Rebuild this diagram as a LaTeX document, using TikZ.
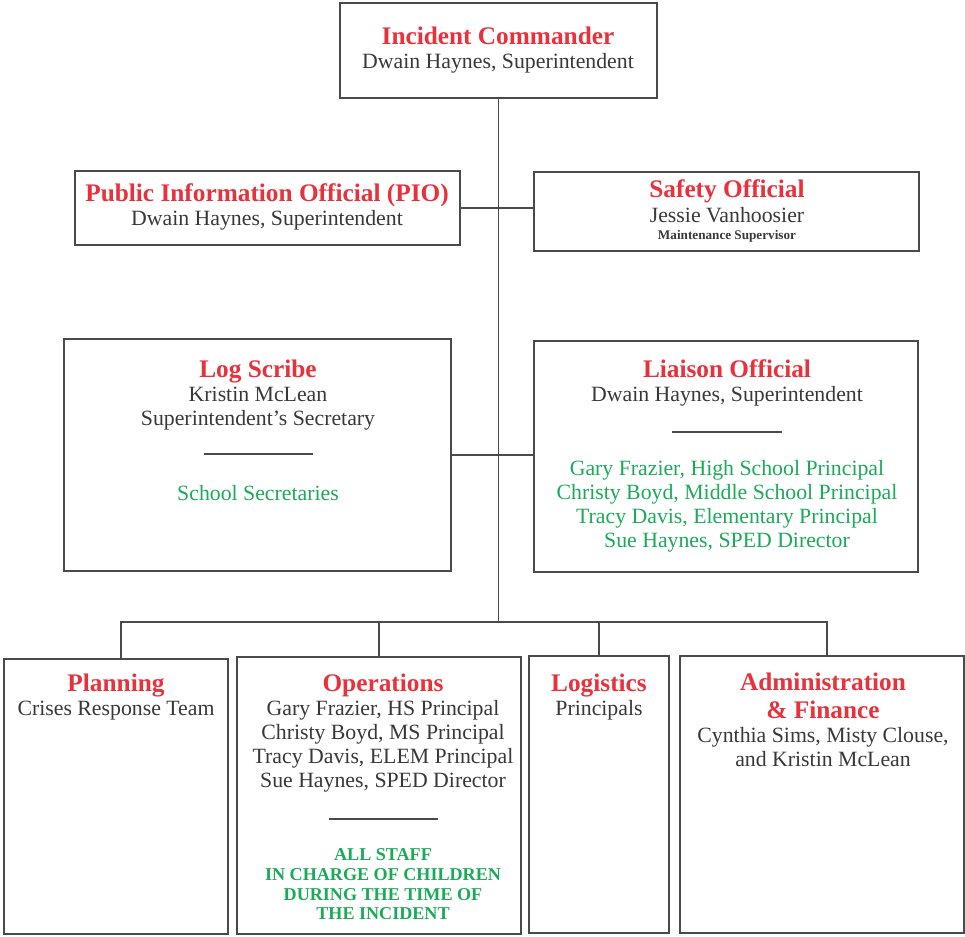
\documentclass[tikz,border=0pt]{standalone}
\usepackage{fontspec}
\setmainfont{Liberation Serif}
\usetikzlibrary{fit, calc}
\definecolor{icsred}{HTML}{E8313B}
\definecolor{icsgreen}{HTML}{1BAA57}
\definecolor{icsink}{HTML}{383838}
\definecolor{icsframe}{HTML}{4A4A4A}
\newcommand\icstitle[1]{{\fontsize{14.4}{16}\selectfont\bfseries\color{icsred}#1}}

\begin{document}
\begin{tikzpicture}[x=0.2mm, y=-0.2mm,
          post/.style={draw=icsframe, line width=1.1pt, inner sep=0pt},
          role/.style={anchor=north, align=center, inner sep=0pt, text=icsink, font=\fontsize{12.4}{13.6}\selectfont},
          crew/.style={role, text=icsgreen},
          caps/.style={crew, font=\fontsize{10.3}{11.3}\selectfont\bfseries},
          link/.style={draw=icsframe, line width=1.1pt},
          bar/.style={draw=icsframe, line width=0.9pt}]
          \useasboundingbox (0,0) rectangle (965,937);
          \node[post, fit={(340,3) (657,98)}] (ic) {};
          \node[post, fit={(75,171) (460,245)}] (pio) {};
          \node[post, fit={(534,172) (919,251)}] (saf) {};
          \node[post, fit={(64,339) (451,571)}] (scr) {};
          \node[post, fit={(534,341) (918,572)}] (lia) {};
          \node[post, fit={(4,659) (228,934)}] (pla) {};
          \node[post, fit={(237,657) (521,934)}] (ops) {};
          \node[post, fit={(529,656) (669,933)}] (lgs) {};
          \node[post, fit={(680,656) (964,933)}] (adm) {};
          \node[role] (icT) at (498,27) {\icstitle{Incident Commander}\\Dwain Haynes, Superintendent};
          \node[role] (pioT) at (267,183) {\icstitle{Public Information Official (PIO)}\\Dwain Haynes, Superintendent};
          \node[role] (safT) at (727,179) {\icstitle{Safety Official}\\[1pt]Jessie Vanhoosier\\[-4pt]{\fontsize{7.5}{9}\selectfont\bfseries Maintenance Supervisor}};
          \node[role] (scrT) at (258,360) {\icstitle{Log Scribe}\\Kristin McLean\\Superintendent’s Secretary};
          \node[crew] (scrG) at (258,485) {School Secretaries};
          \node[role] (liaT) at (727,359) {\icstitle{Liaison Official}\\Dwain Haynes, Superintendent};
          \node[crew] (liaG) at (727,460) {Gary Frazier, High School Principal\\Christy Boyd, Middle School Principal\\Tracy Davis, Elementary Principal\\Sue Haynes, SPED Director};
          \node[role] (plaT) at (116,674) {\icstitle{Planning}\\Crises Response Team};
          \node[role] (opsT) at (383,674) {\icstitle{Operations}\\Gary Frazier, HS Principal\\Christy Boyd, MS Principal\\Tracy Davis, ELEM Principal\\Sue Haynes, SPED Director};
          \node[caps] (opsG) at (383,848) {ALL STAFF\\IN CHARGE OF CHILDREN\\DURING THE TIME OF\\THE INCIDENT};
          \node[role] (lgsT) at (599,674) {\icstitle{Logistics}\\Principals};
          \node[role] (admT) at (823,673) {\icstitle{Administration}\\[2.3pt]\icstitle{\& Finance}\\Cynthia Sims, Misty Clouse,\\and Kristin McLean};
          \draw[bar] (204,454) -- (313,454);
          \draw[bar] (672,432) -- (782,432);
          \draw[bar] (329,819) -- (438,819);
          \coordinate (bus) at (498.5,622);
          \draw[link] (ic.south) -- (bus);
          \draw[link] (pio.east) -- (pio.east -| saf.west);
          \draw[link] (scr.east) -- (scr.east -| lia.west);
          \draw[link] ([xshift=1mm]pla.north) |- (bus) -| ([xshift=1mm]adm.north);
          \draw[link] (ops.north) -- (ops.north |- bus);
          \draw[link] (lgs.north) -- (lgs.north |- bus);
        \end{tikzpicture}
\end{document}
